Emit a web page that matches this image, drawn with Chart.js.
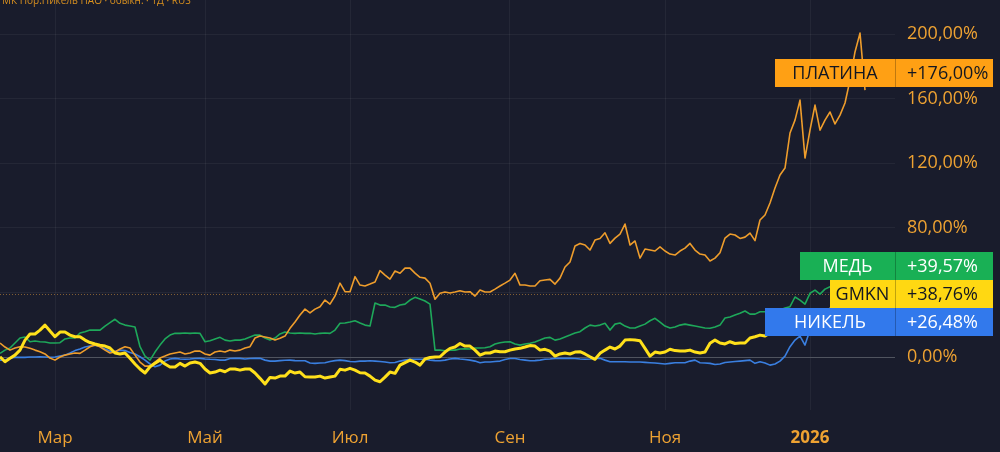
<!DOCTYPE html>
<html>
<head>
<meta charset="utf-8">
<script src="https://cdn.jsdelivr.net/npm/chart.js@4.4.1/dist/chart.umd.min.js"></script>
<style>
  html, body { margin: 0; padding: 0; background: #191c2c; }
  #wrap { width: 1000px; height: 452px; position: relative; }
</style>
</head>
<body>
<div id="wrap"><canvas id="chart"></canvas></div>
<script>
// изменение с начала периода, %
const gmkn = [
  0.2, -2.9, -0.8, 1.2, 4.3, 10.5, 14.3, 14.3, 16.7, 19.8,
  16.1, 12.6, 15.5, 15.5, 13.6, 12.6, 12.6, 10.5, 9.0, 8.1,
  7.4, 6.8, 5.6, 2.5, 1.9, 2.5, -0.8, -4.3, -7.4, -9.9,
  -6.0, -3.9, -1.9, -4.3, -6.2, -6.2, -3.9, -5.6, -3.7, -3.1,
  -3.9, -7.4, -9.9, -9.3, -8.1, -9.1, -7.4, -7.4, -8.1, -7.4,
  -7.4, -9.9, -13.2, -16.7, -12.6, -13.0, -11.8, -11.8, -8.7, -9.9,
  -9.3, -12.2, -12.4, -12.4, -11.8, -13.0, -12.4, -11.8, -7.6, -8.1,
  -7.0, -8.1, -9.7, -9.9, -11.8, -14.3, -15.3, -12.4, -9.3, -10.1,
  -5.0, -3.4, -1.9, -3.1, -5.0, -1.2, -0.3, 0, 0.2, 3.1,
  5.4, 6.2, 8.4, 6.8, 6.8, 4.3, 1.2, 2.5, 2.5, 3.7,
  3.3, 3.3, 4.3, 5.0, 5.4, 6.2, 7.1, 6.8, 4.3, 4.8,
  3.7, 0.6, 1.9, 2.5, 1.9, 3.1, 3.3, 1.9, 0.2, -1.4,
  2.3, 4.3, 6.2, 5.0, 6.8, 10.5, 10.8, 10.5, 10.1, 5.4,
  0.6, 3.1, 2.5, 3.1, 4.8, 4.0, 3.7, 3.7, 4.3, 3.1,
  2.5, 3.1, 8.5, 10.5, 8.7, 8.1, 9.5, 8.4, 8.7, 8.7,
  11.8, 12.6, 13.6, 13.0, 14.9, 16.1, 16.7, 18.6, 19.8, 21.7,
  22.9, 24.2, 25.4, 26.0, 27.3, 28.5, 29.7, 32.2, 35.3, 36.6,
  37.2, 38.4, 39.0, 38.8
];

const platina = [
  8.7, 6.2, 4.3, 5.6, 6.4, 6.2, 5.4, 4.3, 3.3, 1.9,
  -0.6, -1.9, 0, 1.2, 1.9, 2.5, 2.3, 4.3, 6.4, 7.4,
  6.4, 4.3, 2.5, 3.1, 5.0, 6.4, 5.6, 1.2, -3.1, -5.6,
  -5.6, -3.1, -0.6, 0.6, 1.9, 2.5, 3.1, 1.9, 2.5, 3.7,
  3.7, 1.9, 1.2, 3.1, 3.7, 3.1, 4.3, 3.7, 4.3, 5.6,
  6.4, 11.8, 13.0, 12.4, 11.8, 10.5, 11.6, 13.0, 17.8, 21.7,
  26.0, 29.7, 27.4, 29.7, 31.2, 35.3, 32.8, 37.8, 45.8, 40.5,
  40.5, 49.8, 44.6, 44.0, 45.2, 46.5, 53.5, 50.8, 48.3, 53.3,
  51.9, 55.1, 55.1, 52.0, 49.4, 48.9, 45.7, 35.8, 39.5, 40.3,
  39.7, 40.3, 41.1, 40.3, 40.5, 37.8, 41.5, 40.3, 40.3, 42.1,
  44.0, 45.8, 47.7, 51.9, 44.6, 44.6, 44.0, 44.0, 47.3, 47.7,
  48.1, 45.2, 48.9, 55.8, 58.9, 68.8, 70.4, 69.4, 66.3, 72.5,
  73.5, 77.0, 70.4, 73.7, 76.2, 82.4, 69.4, 71.9, 61.3, 66.9,
  66.3, 65.7, 68.3, 65.7, 63.8, 63.2, 65.7, 67.5, 70.4, 66.3,
  63.8, 63.2, 59.5, 61.3, 64.6, 73.7, 76.2, 75.6, 73.5, 74.3,
  76.8, 72.1, 84.9, 88.0, 95.4, 104.7, 112.8, 117.1, 138.8, 146.8,
  159.2, 123.3, 140.6, 156.1, 140.6, 146.8, 151.8, 144.4, 149.9, 157.4,
  171.6, 189.0, 200.7, 165.4
];

const med = [
  2.3, 4.3, 5.6, 8.7, 11.8, 12.4, 9.5, 9.9, 9.5, 9.3,
  8.7, 8.7, 8.9, 11.2, 11.8, 11.8, 14.9, 15.7, 16.7, 16.7,
  16.7, 19.2, 21.3, 23.4, 20.9, 19.8, 19.2, 18.6, 6.4, 0.6,
  -1.9, 3.1, 7.4, 11.2, 13.6, 14.7, 14.7, 14.9, 14.7, 14.9,
  14.7, 9.5, 10.1, 11.2, 12.2, 10.5, 9.9, 10.5, 10.5, 11.2,
  12.4, 13.6, 13.6, 11.8, 10.5, 11.8, 14.3, 15.5, 14.9, 14.7,
  14.9, 14.7, 14.7, 14.3, 14.7, 14.9, 14.7, 16.7, 20.9, 21.1,
  21.7, 22.5, 21.1, 19.8, 19.2, 33.5, 32.2, 32.2, 31.0, 30.8,
  32.2, 32.8, 35.3, 37.0, 35.9, 34.7, 32.8, 4.3, 4.3, 3.9,
  4.3, 4.3, 5.0, 5.1, 5.0, 5.6, 5.6, 5.8, 6.4, 8.1,
  8.9, 9.3, 9.5, 8.1, 7.4, 8.1, 8.5, 9.3, 10.5, 11.8,
  12.2, 10.5, 11.2, 12.4, 13.6, 14.9, 15.7, 18.0, 19.8, 19.2,
  19.8, 20.9, 16.7, 20.4, 21.1, 19.2, 18.0, 18.0, 19.2, 20.4,
  22.5, 24.0, 21.7, 19.2, 18.0, 18.6, 19.8, 20.4, 19.8, 19.2,
  18.6, 18.0, 17.8, 18.6, 19.8, 24.2, 24.8, 26.0, 27.1, 28.5,
  26.6, 26.6, 28.1, 28.1, 27.9, 28.5, 29.1, 30.4, 31.2, 37.2,
  35.3, 32.8, 39.5, 41.5, 39.0, 42.1, 43.6, 43.4, 42.1, 41.5,
  40.9, 40.3, 39.7, 39.6
];

const nikel = [
  -1.9, -1.9, -0.6, -0.2, -0.2, -0.2, 0, 0, 0.2, 0,
  -0.2, 0, 0.6, 1.2, 2.5, 4.0, 5.0, 6.2, 6.8, 7.4,
  6.5, 5.0, 3.7, 3.4, 4.3, 4.0, 2.8, 1.9, 0.2, -1.9,
  -4.3, -6.0, -5.0, -2.5, -1.2, -0.8, -1.2, -1.4, -1.2, -0.9,
  -0.8, -1.2, -1.4, -1.5, -1.9, -1.9, -0.9, -0.8, -0.8, -1.2,
  -0.9, -0.8, -0.8, -1.9, -2.5, -2.5, -2.2, -2.0, -1.9, -2.2,
  -2.3, -2.3, -3.7, -3.9, -3.7, -3.5, -2.8, -2.2, -1.9, -2.2,
  -2.8, -2.9, -2.5, -2.5, -2.3, -2.5, -2.8, -3.1, -3.5, -3.4,
  -2.5, -1.9, -1.4, -1.4, -1.4, -1.4, -1.9, -2.2, -2.3, -1.9,
  -1.2, -0.8, -1.2, -1.5, -1.9, -2.5, -3.5, -3.1, -3.1, -2.8,
  -2.5, -1.5, -0.9, -0.9, -1.5, -1.9, -2.3, -2.2, -1.9, -1.4,
  -1.2, -0.8, -0.8, -0.8, -0.8, -0.9, -1.2, -1.4, -1.2, -0.9,
  -0.8, -1.9, -2.9, -2.9, -2.9, -2.9, -3.1, -3.1, -3.1, -3.3,
  -3.5, -3.7, -4.0, -4.3, -3.9, -3.5, -3.5, -3.5, -2.5, -1.9,
  -3.5, -3.7, -3.9, -4.6, -4.3, -3.4, -3.1, -2.8, -2.5, -2.2,
  -1.9, -3.9, -2.9, -3.7, -5.0, -4.3, -2.5, 0.6, 6.4, 10.5,
  13.0, 7.4, 16.7, 19.8, 21.7, 22.9, 24.2, 25.4, 24.8, 26.0,
  26.6, 27.3, 26.6, 26.5
];

// подписи справа: имя, последнее значение
const seriesNames = ["GMKN", "ПЛАТИНА", "МЕДЬ", "НИКЕЛЬ"];
const lastValues = [38.76, 176.00, 39.57, 26.48];

// ось X
const monthLabels = ["Мар", "Май", "Июл", "Сен", "Ноя", "2026"];
const monthIndex = [11, 41, 70, 102, 133, 162];
const yTicks = [0, 40, 80, 120, 160, 200];

const categories = Array.from({ length: gmkn.length + 6 }, (_, i) => {
    const k = monthIndex.indexOf(i);
    return k >= 0 ? monthLabels[k] : "";
});

const colors = ["#ffe01b", "#ee9d2c", "#1ea85a", "#3a7fe0"];
const boxColors = ["#ffd812", "#ffa014", "#19b055", "#3279ec"];
const boxText = ["#131722", "#131722", "#ffffff", "#ffffff"];
const nameBoxW = [65, 120, 95, 130];

const fmt = v => v.toFixed(2).replace(".", ",") + "%";
const FONT = "'Open Sans', sans-serif";

const overlay = {
    id: "overlay",
    beforeDraw(chart) {
        const c = chart.ctx;
        c.save();
        c.fillStyle = "#191c2c";
        c.fillRect(0, 0, chart.width, chart.height);
        c.restore();
    },
    beforeDatasetsDraw(chart) {
        // пунктир на уровне GMKN
        const c = chart.ctx;
        const a = chart.chartArea;
        const y = Math.round(chart.scales.y.getPixelForValue(lastValues[0])) + 0.5;
        c.save();
        c.strokeStyle = "rgba(235,160,60,0.5)";
        c.lineWidth = 1;
        c.setLineDash([1, 2]);
        c.beginPath();
        c.moveTo(a.left, y);
        c.lineTo(a.right, y);
        c.stroke();
        c.restore();
    },
    afterDraw(chart) {
        const c = chart.ctx;
        const a = chart.chartArea;
        const ys = chart.scales.y;
        c.save();

        // заголовок (обрезан сверху)
        c.font = "10px " + FONT;
        c.fillStyle = "#d8901f";
        c.textBaseline = "middle";
        c.textAlign = "left";
        c.fillText("МК Нор.Никель ПАО · обыкн. · 1Д · RUS", 2, 1);

        // размещение меток без наложений, GMKN — якорь
        const H = 28;
        const pos = lastValues.map(v => ys.getPixelForValue(v));
        const anchor = pos[0];
        const place = [];
        place[0] = anchor;
        const above = [1, 2, 3].filter(i => pos[i] <= anchor).sort((p, q) => pos[q] - pos[p]);
        const below = [1, 2, 3].filter(i => pos[i] > anchor).sort((p, q) => pos[p] - pos[q]);
        let prev = anchor;
        above.forEach(i => { place[i] = Math.min(pos[i], prev - H); prev = place[i]; });
        prev = anchor;
        below.forEach(i => { place[i] = Math.max(pos[i], prev + H); prev = place[i]; });

        const order = [1, 2, 3, 0];
        order.forEach(i => {
            const yc = place[i];
            const top = Math.round(yc - H / 2);
            const x0 = a.right - nameBoxW[i];
            const x1 = 993;
            c.fillStyle = boxColors[i];
            c.fillRect(x0, top, x1 - x0, H);
            c.fillStyle = "rgba(0,0,0,0.25)";
            c.fillRect(a.right, top, 1, H);
            c.font = "18px " + FONT;
            c.fillStyle = boxText[i];
            c.textBaseline = "middle";
            c.textAlign = "center";
            c.fillText(seriesNames[i], x0 + nameBoxW[i] / 2, top + H / 2 + 1);
            c.textAlign = "left";
            c.fillText("+" + fmt(lastValues[i]), a.right + 12, top + H / 2 + 1);
        });
        c.restore();
    }
};

const ctx = document.getElementById("chart").getContext("2d");

new Chart(ctx, {
    type: "line",
    data: {
        labels: categories,
        datasets: [
            { label: seriesNames[0], data: gmkn, borderColor: colors[0], borderWidth: 3, order: 0 },
            { label: seriesNames[1], data: platina, borderColor: colors[1], borderWidth: 1.6, order: 1 },
            { label: seriesNames[2], data: med, borderColor: colors[2], borderWidth: 1.6, order: 2 },
            { label: seriesNames[3], data: nikel, borderColor: colors[3], borderWidth: 1.6, order: 3 }
        ]
    },
    options: {
        responsive: true,
        maintainAspectRatio: false,
        animation: false,
        devicePixelRatio: 1,
        layout: { padding: 0 },
        elements: {
            point: { radius: 0 },
            line: { tension: 0, borderJoinStyle: "round" }
        },
        plugins: {
            legend: { display: false },
            tooltip: { enabled: false }
        },
        scales: {
            x: {
                type: "category",
                offset: false,
                border: { display: false },
                grid: { color: "rgba(255,255,255,0.05)", drawTicks: false },
                ticks: {
                    autoSkip: false,
                    maxRotation: 0,
                    padding: 18,
                    color: "#eea232",
                    font: ctx => ({
                        family: FONT,
                        size: 17,
                        weight: ctx.tick && ctx.tick.label === "2026" ? "bold" : "normal"
                    }),
                    callback: function (value) {
                        const l = this.getLabelForValue(value);
                        return l === "" ? null : l;
                    }
                },
                afterFit: s => { s.height = 42; s.paddingLeft = 0; s.paddingRight = 0; }
            },
            y: {
                position: "right",
                min: -32.8,
                max: 221.2,
                border: { display: false },
                grid: {
                    color: ctx => ctx.tick && ctx.tick.value === 0 ? "#50545f" : "rgba(255,255,255,0.05)",
                    drawTicks: false
                },
                afterBuildTicks: s => { s.ticks = yTicks.map(v => ({ value: v })); },
                ticks: {
                    padding: 12,
                    color: "#eea232",
                    font: { family: FONT, size: 18 },
                    callback: v => fmt(v)
                },
                afterFit: s => { s.width = 105; s.paddingTop = 0; s.paddingBottom = 0; }
            }
        }
    },
    plugins: [overlay]
});
</script>
</body>
</html>
